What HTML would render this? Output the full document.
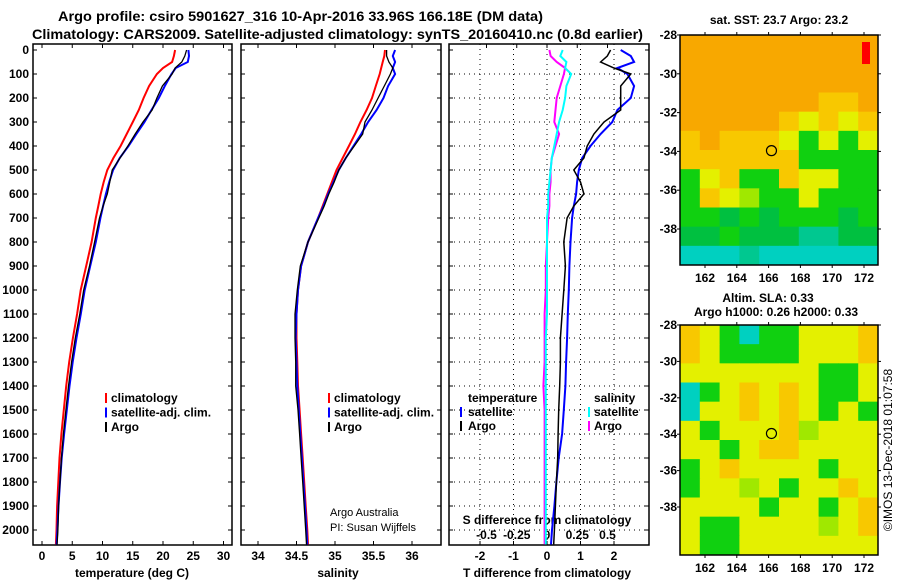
<!DOCTYPE html>
<html><head><meta charset="utf-8"><style>
body{margin:0;background:#fff;}
svg{display:block;font-family:"Liberation Sans",sans-serif;}
</style></head><body>
<svg id="c" width="900" height="580" viewBox="0 0 900 580">
<g font-weight="bold" font-size="14">
<text x="58" y="21" textLength="485" lengthAdjust="spacingAndGlyphs">Argo profile: csiro 5901627_316 10-Apr-2016 33.96S 166.18E (DM data)</text>
<text x="32" y="39" textLength="611" lengthAdjust="spacingAndGlyphs">Climatology: CARS2009. Satellite-adjusted climatology: synTS_20160410.nc (0.8d earlier)</text>
</g>
<g id="maps"></g>
<g id="plots"></g>
<text transform="translate(892,450) rotate(-90)" text-anchor="middle" font-size="12">©IMOS 13-Dec-2018 01:07:58</text>
</svg>
<script>
const depths=[0,25,50,75,100,150,200,250,300,350,400,450,500,550,600,650,700,800,900,1000,1100,1200,1300,1400,1500,1600,1700,1800,1900,2000,2060];
const climT=[22.0,21.8,21.5,20.0,19.0,17.7,16.8,16.0,15.0,14.0,13.0,11.8,10.8,10.2,9.7,9.3,8.9,8.2,7.3,6.4,5.8,5.1,4.5,4.0,3.6,3.2,2.9,2.7,2.5,2.4,2.3];
const argoT=[23.9,23.6,23.1,22.0,21.5,19.9,19.0,18.2,16.7,15.4,14.2,12.9,11.6,11.2,10.8,10.1,9.5,8.7,7.85,6.9,6.25,5.5,4.9,4.38,3.95,3.53,3.22,2.98,2.75,2.62,2.5];
const satT=[24.2,24.3,24.1,22.1,21.4,20.3,19.3,18.1,16.95,15.6,14.3,12.85,11.75,11.1,10.57,10.1,9.65,8.9,7.97,7.05,6.42,5.7,5.07,4.55,4.1,3.65,3.25,2.98,2.72,2.55,2.42];
const climS=[35.65,35.64,35.62,35.60,35.58,35.53,35.48,35.41,35.33,35.26,35.18,35.10,35.02,34.96,34.90,34.84,34.78,34.65,34.56,34.52,34.50,34.50,34.51,34.52,34.54,34.56,34.58,34.60,34.62,34.64,34.65];
const argoS=[35.67,35.67,35.70,35.75,35.72,35.64,35.56,35.48,35.39,35.36,35.25,35.14,35.05,34.99,34.92,34.86,34.79,34.65,34.55,34.51,34.48,34.48,34.49,34.49,34.52,34.54,34.56,34.58,34.60,34.62,34.63];
const satS=[35.78,35.75,35.78,35.75,35.78,35.69,35.63,35.54,35.43,35.34,35.24,35.14,35.05,34.98,34.91,34.85,34.78,34.65,34.56,34.52,34.50,34.49,34.50,34.51,34.53,34.55,34.57,34.59,34.61,34.63,34.64];
const argoDT=[1.9,1.8,1.6,2.0,2.5,2.2,2.2,2.2,1.7,1.4,1.2,1.1,0.8,1.0,1.1,0.8,0.6,0.5,0.55,0.5,0.45,0.4,0.4,0.38,0.35,0.33,0.32,0.28,0.25,0.22,0.2];
const satDT=[2.2,2.5,2.6,2.1,2.4,2.6,2.5,2.1,1.95,1.6,1.3,1.05,0.95,0.9,0.87,0.8,0.75,0.7,0.67,0.65,0.62,0.6,0.57,0.55,0.5,0.45,0.35,0.28,0.22,0.15,0.12];
const argoDS=[0.02,0.03,0.08,0.15,0.14,0.11,0.08,0.07,0.06,0.1,0.07,0.04,0.03,0.03,0.02,0.02,0.01,0,-0.01,-0.01,-0.02,-0.02,-0.02,-0.03,-0.02,-0.02,-0.02,-0.02,-0.02,-0.02,-0.02];
const satDS=[0.13,0.11,0.16,0.15,0.2,0.16,0.15,0.13,0.1,0.08,0.06,0.04,0.03,0.02,0.01,0.01,0,0,0,0,0,-0.01,-0.01,-0.01,-0.01,-0.01,-0.01,-0.01,-0.01,-0.01,-0.01];
const depthTicks=[0,100,200,300,400,500,600,700,800,900,1000,1100,1200,1300,1400,1500,1600,1700,1800,1900,2000];
const tTicks=[0,5,10,15,20,25,30];
const sTicks=[34,34.5,35,35.5,36];
const dTTicks=[-2,-1,0,1,2];
const dSTicks=[-0.5,-0.25,0,0.25,0.5];
const dSLabels=["-0.5","-0.25","0","0.25","0.5"];
const lonTicks=[162,164,166,168,170,172];
const latTicks=[-28,-30,-32,-34,-36,-38];

const NS='http://www.w3.org/2000/svg';
function mk(tag,attrs,parent){const e=document.createElementNS(NS,tag);for(const k in attrs)e.setAttribute(k,attrs[k]);parent.appendChild(e);return e;}
const plots=document.getElementById('plots');
const Y=d=>50+0.24*d;
const xT=t=>42+6.05*t;
const xS=s=>258+77*(s-34);
const xDT=t=>547+33.5*t;
const xDS=s=>547+121*s;
const TOP=44,BOT=545;

function frame(x0,x1,name){
  const g=mk('g',{},plots);
  
  
  mk('rect',{x:x0,y:TOP,width:x1-x0,height:BOT-TOP,fill:'none',stroke:'#000','stroke-width':1.5},g);
  depthTicks.forEach(d=>{mk('line',{x1:x0,x2:x0+4,y1:Y(d),y2:Y(d),stroke:'#000'},g);mk('line',{x1:x1-4,x2:x1,y1:Y(d),y2:Y(d),stroke:'#000'},g);});
  return g;
}
function line(vals,depthArr,xf,color,w,name,parent){
  const p=mk('polyline',{points:vals.map((v,i)=>xf(v).toFixed(1)+','+Y(depthArr[i]).toFixed(1)).join(' '),fill:'none',stroke:color,'stroke-width':w},parent);
  
  
}
function txt(x,y,s,parent,name,opts){
  const t=mk('text',Object.assign({x:x,y:y,'font-size':12,'font-weight':'bold'},opts||{}),parent);
  t.textContent=s;
  
  
  return t;
}
const dl=mk('g',{},plots);


depthTicks.forEach(d=>txt(29,Y(d)+4,String(d),dl,'depth-tick-label',{'text-anchor':'end'}));

const g1=frame(33,232,'temperature-panel');
tTicks.forEach(t=>{mk('line',{x1:xT(t),x2:xT(t),y1:BOT,y2:BOT-4,stroke:'#000'},g1);mk('line',{x1:xT(t),x2:xT(t),y1:TOP,y2:TOP+4,stroke:'#000'},g1);txt(xT(t),560,String(t),g1,'temperature-tick-label',{'text-anchor':'middle'});});
txt(132,577,'temperature (deg C)',g1,'temperature-axis-title',{'text-anchor':'middle'});
line(climT,depths,xT,'#f00',2,'climatology-temperature-line',g1);
line(satT,depths,xT,'#00f',2,'satellite-temperature-line',g1);
line(argoT,depths,xT,'#000',1.3,'argo-temperature-line',g1);
[['climatology','#f00'],['satellite-adj. clim.','#00f'],['Argo','#000']].forEach((l,i)=>{
  mk('rect',{x:105,y:393+i*14.5,width:2,height:10,fill:l[1]},g1);
  txt(111,402+i*14.5,l[0],g1,'temperature-legend-entry');});

const g2=frame(241,441,'salinity-panel');
sTicks.forEach((s,i)=>{mk('line',{x1:xS(s),x2:xS(s),y1:BOT,y2:BOT-4,stroke:'#000'},g2);mk('line',{x1:xS(s),x2:xS(s),y1:TOP,y2:TOP+4,stroke:'#000'},g2);txt(xS(s),560,String(s),g2,'salinity-tick-label',{'text-anchor':'middle'});});
txt(338,577,'salinity',g2,'salinity-axis-title',{'text-anchor':'middle'});
line(climS,depths,xS,'#f00',2,'climatology-salinity-line',g2);
line(satS,depths,xS,'#00f',2,'satellite-salinity-line',g2);
line(argoS,depths,xS,'#000',1.3,'argo-salinity-line',g2);
[['climatology','#f00'],['satellite-adj. clim.','#00f'],['Argo','#000']].forEach((l,i)=>{
  mk('rect',{x:328,y:393+i*14.5,width:2,height:10,fill:l[1]},g2);
  txt(334,402+i*14.5,l[0],g2,'salinity-legend-entry');});
txt(330,516,'Argo Australia',g2,'credit-argo-australia',{'font-weight':'normal','font-size':11});
txt(330,531,'PI: Susan Wijffels',g2,'credit-pi',{'font-weight':'normal','font-size':11});

const g3=frame(449,649,'difference-panel');
depthTicks.forEach(d=>{if(d>0)mk('line',{x1:449,x2:649,y1:Y(d),y2:Y(d),stroke:'#000','stroke-dasharray':'1,4'},g3);});
dTTicks.forEach(t=>{mk('line',{x1:xDT(t),x2:xDT(t),y1:TOP,y2:BOT,stroke:'#000','stroke-dasharray':'1,4'},g3);mk('line',{x1:xDT(t),x2:xDT(t),y1:BOT,y2:BOT-4,stroke:'#000'},g3);txt(xDT(t),560,String(t),g3,'t-diff-tick-label',{'text-anchor':'middle'});});
dSTicks.forEach((s,i)=>{mk('line',{x1:xDS(s),x2:xDS(s),y1:TOP,y2:TOP+4,stroke:'#000'},g3);txt(xDS(s),539,dSLabels[i],g3,'s-diff-tick-label',{'text-anchor':'middle'});});
txt(547,524,'S difference from climatology',g3,'s-diff-axis-title',{'text-anchor':'middle'});
txt(547,577,'T difference from climatology',g3,'t-diff-axis-title',{'text-anchor':'middle'});
line(argoDS,depths,xDS,'#f0f',2,'argo-salinity-diff-line',g3);
line(satDS,depths,xDS,'#0ff',2,'satellite-salinity-diff-line',g3);
line(satDT,depths,xDT,'#00f',2,'satellite-temperature-diff-line',g3);
line(argoDT,depths,xDT,'#000',1.5,'argo-temperature-diff-line',g3);
txt(468,402,'temperature',g3,'diff-legend-temperature-header');
mk('rect',{x:460,y:407,width:2,height:10,fill:'#00f'},g3);txt(468,416,'satellite',g3,'diff-legend-temperature-satellite');
mk('rect',{x:460,y:421,width:2,height:10,fill:'#000'},g3);txt(468,430,'Argo',g3,'diff-legend-temperature-argo');
txt(594,402,'salinity',g3,'diff-legend-salinity-header');
mk('rect',{x:588,y:407,width:2,height:10,fill:'#0ff'},g3);txt(594,416,'satellite',g3,'diff-legend-salinity-satellite');
mk('rect',{x:588,y:421,width:2,height:10,fill:'#f0f'},g3);txt(594,430,'Argo',g3,'diff-legend-salinity-argo');

const maps=document.getElementById('maps');
const pal={O:'#f8a800',A:'#f8c800',Y:'#e4f000',L:'#a0e800',G:'#10d010',D:'#00c040',T:'#00c890',C:'#00d0c0'};
const sstGrid=["OOOOOOOOOO","OOOOOOOOOO","OOOOOOOOOO","OOOOOOOAAO","OOOOOAYAYA","AOAAAYGYGY","AAAAAAGGGG","GYAGGAYYGG","GAYLGGYGGG","GGDGDGGGDG","DDGDDDTTDD","CCCTCCCCCC"];
const slaGrid=["AYGCGGYYYA","AYGGGGYYYA","YYYYYYYGGY","CGYAYAYGGY","CYYAYAYGYG","YGYYYALYYY","YYGYAAYYYY","GYAYYYYGYY","GYYLYGYYAY","YYYYGYYGYA","YGGYYYYLYA","YGGYYYYYYY"];
function mapPanel(y0,y1,grid,name,dy){
  const g=mk('g',{},maps);
  
  
  const x0=680,x1=878,cw=(x1-x0)/10,ch=(y1-y0)/12;
  grid.forEach((r,i)=>[...r].forEach((c,j)=>mk('rect',{x:x0+j*cw,y:y0+i*ch,width:cw+0.5,height:ch+0.5,fill:pal[c]},g)));
  mk('rect',{x:x0,y:y0,width:x1-x0,height:y1-y0,fill:'none',stroke:'#000','stroke-width':1.5},g);
  const lonX=l=>705+15.9*(l-162);
  const latY=l=>y0+(-28-l)*dy;
  lonTicks.forEach(l=>{mk('line',{x1:lonX(l),x2:lonX(l),y1:y0,y2:y0-3,stroke:'#000'},g);mk('line',{x1:lonX(l),x2:lonX(l),y1:y1,y2:y1+3,stroke:'#000'},g);txt(lonX(l),y1+17,String(l),g,'longitude-tick-label',{'text-anchor':'middle'});});
  latTicks.forEach(l=>{mk('line',{x1:x0,x2:x0-3,y1:latY(l),y2:latY(l),stroke:'#000'},g);mk('line',{x1:x1,x2:x1+3,y1:latY(l),y2:latY(l),stroke:'#000'},g);txt(x0-3,latY(l)+4,String(l),g,'latitude-tick-label',{'text-anchor':'end'});});
  const c=mk('circle',{cx:lonX(166.18),cy:latY(-33.96),r:5,fill:'none',stroke:'#000','stroke-width':1.2},g);
  
  
  return g;
}
const m1=mapPanel(35,265,sstGrid,'sst-map',19.4);
mk('rect',{x:862,y:42,width:8,height:22,fill:'#f00'},m1);
const m2=mapPanel(325,555,slaGrid,'sla-map',18.2);
txt(779,24,'sat. SST: 23.7 Argo: 23.2',maps,'sst-map-title',{'text-anchor':'middle'});
txt(768,302,'Altim. SLA: 0.33',maps,'sla-map-title',{'text-anchor':'middle'});
txt(776,316,'Argo h1000: 0.26 h2000: 0.33',maps,'sla-map-subtitle',{'text-anchor':'middle'});
</script>
</body></html>
